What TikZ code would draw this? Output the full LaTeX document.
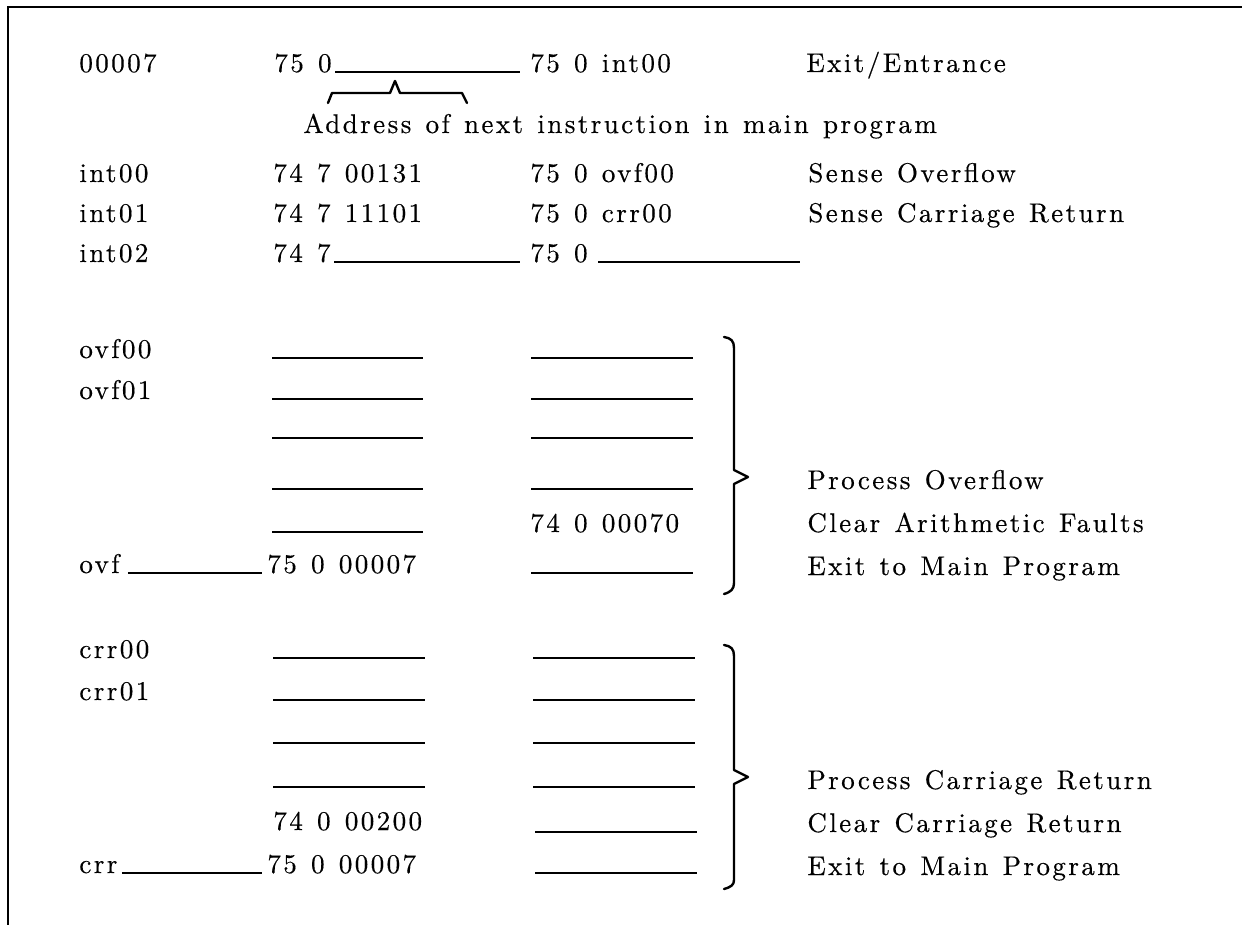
\documentclass[tikz,border=0pt]{standalone}
\usepackage{fontspec}
\setmainfont{lmroman10-regular.otf}[LetterSpace=9, WordSpace=1.25, FakeBold=0.4]
\tikzstyle{txt} = [anchor=base west, inner sep=0pt, font=\fontsize{13.5}{16}\selectfont]
\tikzstyle{blank} = [line width=1.1pt]
\tikzstyle{bracket} = [line width=1.2pt, line join=round, line cap=round]
\tikzstyle{frame} = [line width=1.3pt]

\begin{document}
\begin{tikzpicture}[x=0.5pt, y=-0.5pt]

    \useasboundingbox (0,0) rectangle (1242,925);
    \draw [frame] (8,925) -- (8,7) -- (1242,7);

    % entrance word
    \node (loc) [txt] at (79,72) {00007};
    \node (jmp) [txt] at (274,72) {75 0};
    \node (jmpint) [txt] at (530,72) {75 0 int00};
    \node (entry) [txt] at (806,72) {Exit/Entrance};
    \node (addr) [txt] at (303,133) {Address of next instruction in main program};
    \draw [blank, shorten <=1.5pt, shorten >=5pt] (jmp.base east) -- (jmpint.base west);
    \draw [bracket] (328,103) -- (332,93) -- (390,93) -- (395,81) -- (400,93) -- (462,93) -- (467,103);

    % sense words
    \node (int00) [txt] at (79,182) {int00};
    \node (int00a) [txt] at (273,182) {74 7 00131};
    \node (int00b) [txt] at (530,182) {75 0 ovf00};
    \node (int00c) [txt] at (808,182) {Sense Overflow};
    \node (int01) [txt] at (79,222) {int01};
    \node (int01a) [txt] at (273,222) {74 7 11101};
    \node (int01b) [txt] at (530,222) {75 0 crr00};
    \node (int01c) [txt] at (808,222) {Sense Carriage Return};
    \node (int02) [txt] at (79,262) {int02};
    \node (int02a) [txt] at (273,262) {74 7};
    \node (int02b) [txt] at (530,262) {75 0};
    \draw [blank, shorten <=1.5pt, shorten >=5pt] (int02a.base east) -- (int02b.base west);
    \coordinate (int02end) at (800,262);
    \draw [blank, shorten <=5pt] (int02b.base east) -- (int02end);

    % overflow routine
    \node (ovf00) [txt] at (79,358) {ovf00};
    \node (ovf01) [txt] at (79,399) {ovf01};
    \node (ovfclr) [txt] at (530,532) {74 0 00070};
    \node (ovf) [txt] at (79,573) {ovf};
    \node (ovfret) [txt] at (267,573) {75 0 00007};
    \draw [blank, shorten <=4pt, shorten >=2.5pt] (ovf.base east) -- (ovfret.base west);

    \draw [blank] (272,358) -- (423,358);
    \draw [blank] (272,399) -- (423,399);
    \draw [blank] (272,438) -- (423,438);
    \draw [blank] (272,489) -- (423,489);
    \draw [blank] (272,532) -- (423,532);
    \draw [blank] (531,358) -- (693,358);
    \draw [blank] (531,399) -- (693,399);
    \draw [blank] (531,438) -- (693,438);
    \draw [blank] (531,489) -- (693,489);
    \draw [blank] (531,573) -- (693,573);

    \draw [bracket] (724,337) .. controls (731,338) and (734,341) .. (734,348) -- (734,470) -- (748,477) -- (734,484) -- (734,583) .. controls (734,589) and (731,592) .. (724,594);
    \node (ovfproc) [txt] at (807,489) {Process Overflow};
    \node (ovfflt) [txt] at (807,532) {Clear Arithmetic Faults};
    \node (ovfexit) [txt] at (807,575) {Exit to Main Program};

    % carriage return routine
    \node (crr00) [txt] at (79,658) {crr00};
    \node (crr01) [txt] at (79,700) {crr01};
    \node (crrclr) [txt] at (273,830) {74 0 00200};
    \node (crr) [txt] at (79,873) {crr};
    \node (crrret) [txt] at (267,873) {75 0 00007};
    \draw [blank, shorten <=2pt, shorten >=2.5pt] (crr.base east) -- (crrret.base west);

    \draw [blank] (273,658) -- (425,658);
    \draw [blank] (273,700) -- (425,700);
    \draw [blank] (273,743) -- (425,743);
    \draw [blank] (273,787) -- (425,787);
    \draw [blank] (533,658) -- (695,658);
    \draw [blank] (533,700) -- (695,700);
    \draw [blank] (533,743) -- (695,743);
    \draw [blank] (533,787) -- (695,787);
    \draw [blank] (535,832) -- (697,832);
    \draw [blank] (535,873) -- (697,873);

    \draw [bracket] (724,645) .. controls (731,646) and (734,649) .. (734,656) -- (734,770) -- (748,777) -- (734,784) -- (734,880) .. controls (734,885) and (731,887) .. (724,889);
    \node (crrproc) [txt] at (807,789) {Process Carriage Return};
    \node (crrcr) [txt] at (807,832) {Clear Carriage Return};
    \node (crrexit) [txt] at (807,875) {Exit to Main Program};

\end{tikzpicture}
\end{document}
